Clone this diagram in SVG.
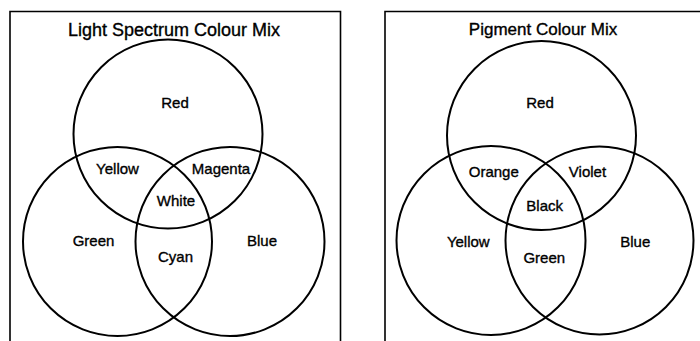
<svg xmlns="http://www.w3.org/2000/svg" width="700" height="341" viewBox="0 0 700 341">
<style>
.frame{fill:none;stroke:#000;stroke-width:1.6}
.c{fill:none;stroke:#000;stroke-width:2}
text{font-family:"Liberation Sans",Arial,Helvetica,sans-serif;fill:#000;stroke:#000;stroke-width:0.35;text-anchor:middle}
.t{font-size:17px}
.l{font-size:15px}
</style>
<rect width="700" height="341" fill="#fff"/>
<g id="panel-light">
<path class="frame" d="M10,341 V11.5 H340.5 V341"/>
<text class="t" x="174" y="35.5" style="font-size:18px">Light Spectrum Colour Mix</text>
<g id="light-red"><circle class="c" cx="168" cy="134" r="94.5"/><text class="l" x="175" y="108">Red</text></g>
<g id="light-green"><circle class="c" cx="117.5" cy="241.5" r="94.5"/><text class="l" x="93.5" y="245.5">Green</text></g>
<g id="light-blue"><circle class="c" cx="230" cy="241.5" r="94.5"/><text class="l" x="262" y="245.5">Blue</text></g>
<g id="light-yellow"><text class="l" x="117.5" y="174">Yellow</text></g>
<g id="light-magenta"><text class="l" x="221" y="174">Magenta</text></g>
<g id="light-white"><text class="l" x="176" y="205.5">White</text></g>
<g id="light-cyan"><text class="l" x="175.5" y="262">Cyan</text></g>
</g>
<g id="panel-pigment">
<path class="frame" d="M385,341 V11.5 H700"/>
<text class="t" x="543" y="34.5">Pigment Colour Mix</text>
<g id="pig-red"><circle class="c" cx="541.5" cy="135.5" r="94.5"/><text class="l" x="540" y="107.8">Red</text></g>
<g id="pig-yellow"><circle class="c" cx="491" cy="240.5" r="94.5"/><text class="l" x="468.3" y="246.5">Yellow</text></g>
<g id="pig-blue"><circle class="c" cx="599.5" cy="240.5" r="94"/><text class="l" x="635.3" y="246.5">Blue</text></g>
<g id="pig-orange"><text class="l" x="493.8" y="176.7">Orange</text></g>
<g id="pig-violet"><text class="l" x="587.5" y="176.7">Violet</text></g>
<g id="pig-black"><text class="l" x="544.7" y="210.7">Black</text></g>
<g id="pig-green"><text class="l" x="544.3" y="263.3">Green</text></g>
</g>
<g id="connectors"/>
</svg>
